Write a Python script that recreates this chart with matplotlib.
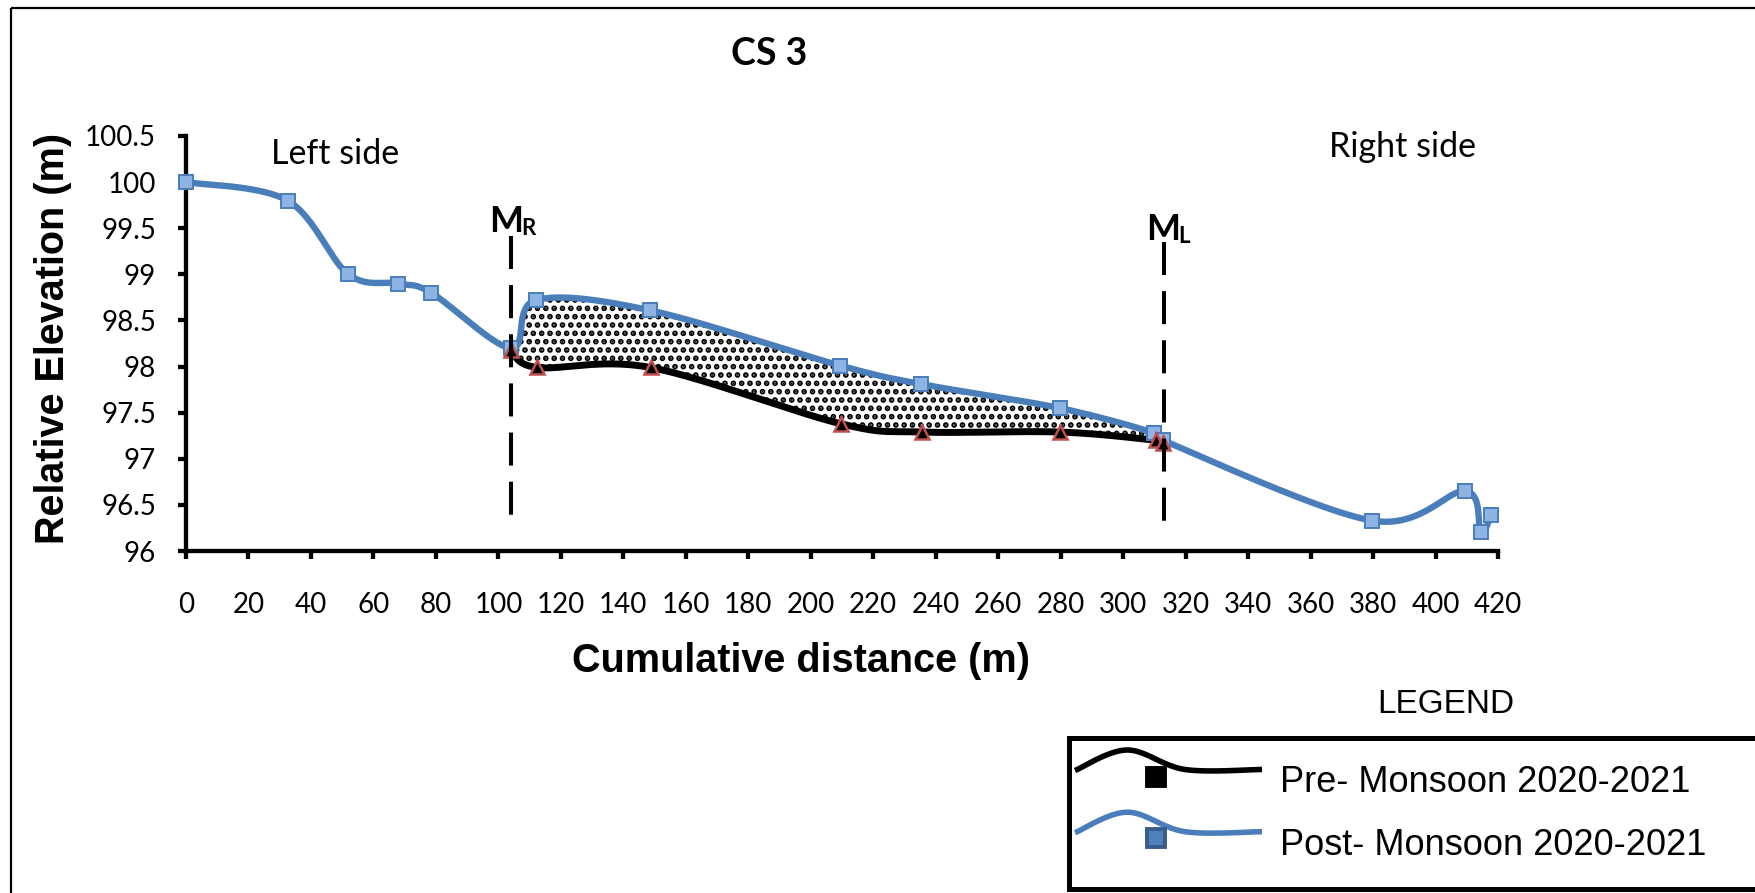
import numpy as np
import matplotlib
matplotlib.use("Agg")
import matplotlib.pyplot as plt
import matplotlib.transforms as mtransforms
from matplotlib.patches import Rectangle
from matplotlib.lines import Line2D
from matplotlib.ticker import FormatStrFormatter

# ---- survey data: cross-section CS 3 ----
post_dist = [0, 32.5, 52, 68, 78.5, 104, 112, 148.5, 209.5, 235.3, 279.7,
             310, 312.7, 379.6, 409.5, 414.5, 417.8]
post_elev = [100.0, 99.8, 99.0, 98.9, 98.8, 98.2, 98.72, 98.61, 98.01, 97.81,
             97.55, 97.28, 97.2, 96.33, 96.65, 96.21, 96.39]

pre_dist = [104, 112.4, 148.7, 209.6, 235.5, 279.7, 310.5, 312.9]
pre_elev = [98.18, 97.99, 97.99, 97.38, 97.29, 97.29, 97.2, 97.17]

# bank markers (M_R, M_L): position and vertical extent of the dashed lines
bank_names = ["R", "L"]
bank_dist = [104, 313]
bank_top = [99.42, 99.35]
bank_bottom = [96.35, 96.26]

x_ticks = list(range(0, 421, 20))
y_ticks = [96, 96.5, 97, 97.5, 98, 98.5, 99, 99.5, 100, 100.5]

series_labels = ["Pre- Monsoon 2020-2021", "Post- Monsoon 2020-2021"]

# ---- styling ----
W, H = 1756, 893
BLUE = "#4A7EBB"
BLUE_FILL = "#8DB4E2"
RED = "#C0504D"
TICK_FONT = "Lato"
LABEL_FONT = "Liberation Sans"
plt.rcParams["hatch.linewidth"] = 2.8


def smooth(xs, ys, n=40):
    """Excel-style smoothed line: cubic Bezier segments with 1/6 tangents."""
    P = np.column_stack([xs, ys]).astype(float)
    out = []
    for i in range(len(P) - 1):
        p0 = P[i - 1] if i > 0 else P[i]
        p1, p2 = P[i], P[i + 1]
        p3 = P[i + 2] if i + 2 < len(P) else P[i + 1]
        c1 = p1 + (p2 - p0) / 6.0
        c2 = p2 - (p3 - p1) / 6.0
        t = np.linspace(0, 1, n)[:, None]
        seg = ((1 - t) ** 3) * p1 + 3 * ((1 - t) ** 2) * t * c1 \
            + 3 * (1 - t) * t ** 2 * c2 + t ** 3 * p2
        out.append(seg if i == 0 else seg[1:])
    return np.vstack(out), n


fig = plt.figure(figsize=(W / 100, H / 100), dpi=100)
fig.patch.set_facecolor("white")
# pixel coordinates with the origin at the top-left corner of the figure
px = mtransforms.Affine2D().scale(1 / W, -1 / H).translate(0, 1) + fig.transFigure

ax = fig.add_axes([186 / W, 1 - 551 / H, 1312 / W, 415 / H])
ax.set_xlim(0, 420)
ax.set_ylim(96, 100.5)

# smoothed profiles
post_curve, n = smooth(post_dist, post_elev)
pre_curve, _ = smooth(pre_dist, pre_elev)

# deposition zone between the two surveys (from M_R to M_L)
i0 = post_dist.index(pre_dist[0])
i1 = post_dist.index(312.7)
seg_upper = post_curve[i0 * (n - 1): i1 * (n - 1) + 1]
poly = np.vstack([seg_upper, pre_curve[::-1]])
ax.fill(poly[:, 0], poly[:, 1], facecolor="none", edgecolor="black",
        hatch="..", linewidth=0, zorder=1)

ax.plot(pre_curve[:, 0], pre_curve[:, 1], color="black", lw=5.0,
        solid_capstyle="round", zorder=2)
ax.plot(post_curve[:, 0], post_curve[:, 1], color=BLUE, lw=4.6,
        solid_capstyle="round", zorder=3)
ax.plot(post_dist, post_elev, ls="none", marker="s", ms=9.5, mfc=BLUE_FILL,
        mec=BLUE, mew=1.4, zorder=4, clip_on=False)
ax.plot(pre_dist, pre_elev, ls="none", marker="^", ms=10.5, mfc="black",
        mec=RED, mew=1.8, zorder=5, clip_on=False)

# bank marker lines and labels
sub_offsets = [(-22, 3.3, 10, 0.5), (-18, 1.7, 14, -1)]
for name, xd, yt, yb, (mx, my, sx, sy) in zip(bank_names, bank_dist, bank_top,
                                              bank_bottom, sub_offsets):
    ax.plot([xd, xd], [yt, yb], color="black", lw=2.9, dashes=[8.2, 4.0],
            zorder=6, solid_capstyle="butt", dash_capstyle="butt")
    ax.annotate("M", xy=(xd, yt), xytext=(mx * 0.72, my * 0.72),
                textcoords="offset points", ha="left", va="baseline",
                fontsize=26, fontweight="bold", family=TICK_FONT,
                annotation_clip=False)
    ax.annotate(name, xy=(xd, yt), xytext=(sx * 0.72, sy * 0.72),
                textcoords="offset points", ha="left", va="baseline",
                fontsize=16, fontweight="bold", family=TICK_FONT,
                annotation_clip=False)

# axes styling
for side in ["top", "right"]:
    ax.spines[side].set_visible(False)
for side in ["left", "bottom"]:
    ax.spines[side].set_linewidth(3.1)
ax.set_xticks(x_ticks)
ax.set_yticks(y_ticks)
ax.yaxis.set_major_formatter(FormatStrFormatter("%g"))
ax.tick_params(axis="both", direction="out", length=5.5, width=3.1,
               labelsize=20)
ax.tick_params(axis="y", pad=16)
ax.tick_params(axis="x", pad=24)
for lab in ax.get_xticklabels() + ax.get_yticklabels():
    lab.set_family(TICK_FONT)

# texts
fig.text(768.7, 65, "CS 3", transform=px, ha="center", va="baseline",
         fontsize=27, fontweight="bold", family=TICK_FONT)
fig.text(335.5, 164, "Left side", transform=px, ha="center", va="baseline",
         fontsize=24.5, family=TICK_FONT)
fig.text(1403, 157, "Right side", transform=px, ha="center", va="baseline",
         fontsize=24.5, family=TICK_FONT)
fig.text(53, 338, "Relative Elevation (m)", transform=px, ha="center",
         va="center", rotation=90, fontsize=28.5, fontweight="bold",
         family=LABEL_FONT)
fig.text(800.8, 671.5, "Cumulative distance (m)", transform=px, ha="center",
         va="baseline", fontsize=28.5, fontweight="bold", family=LABEL_FONT)

# outer chart border
fig.add_artist(Rectangle((11, 8), 3000, 3000, transform=px, fill=False,
                         lw=1.6, ec="black"))

# legend panel
fig.text(1446, 713, "LEGEND", transform=px, ha="center", va="baseline",
         fontsize=24, family=LABEL_FONT)
fig.add_artist(Rectangle((1069, 737.5), 1000, 151.5, transform=px,
                         fill=True, fc="white", lw=3.6, ec="black"))

legend_rows = [
    (769.5, 777, "black", "black", "black", series_labels[0], 791.7),
    (831.7, 838, BLUE, "#4F81BD", "#385D8A", series_labels[1], 855),
]
for base_y, mk_y, lcol, mfc, mec, label, text_y in legend_rows:
    wave, _ = smooth([1075, 1127, 1185, 1262],
                     [base_y + 1, base_y - 19.5, base_y, base_y], n=30)
    fig.add_artist(Line2D(wave[:, 0], wave[:, 1], transform=px, color=lcol,
                          lw=4.0, solid_capstyle="butt"))
    fig.add_artist(Line2D([1156], [mk_y], transform=px, ls="none", marker="s",
                          ms=12.5, mfc=mfc, mec=mec, mew=2.8))
    fig.text(1280, text_y, label, transform=px, ha="left", va="baseline",
             fontsize=26, family=LABEL_FONT)

fig.savefig("out.png", dpi=100, facecolor="white")
